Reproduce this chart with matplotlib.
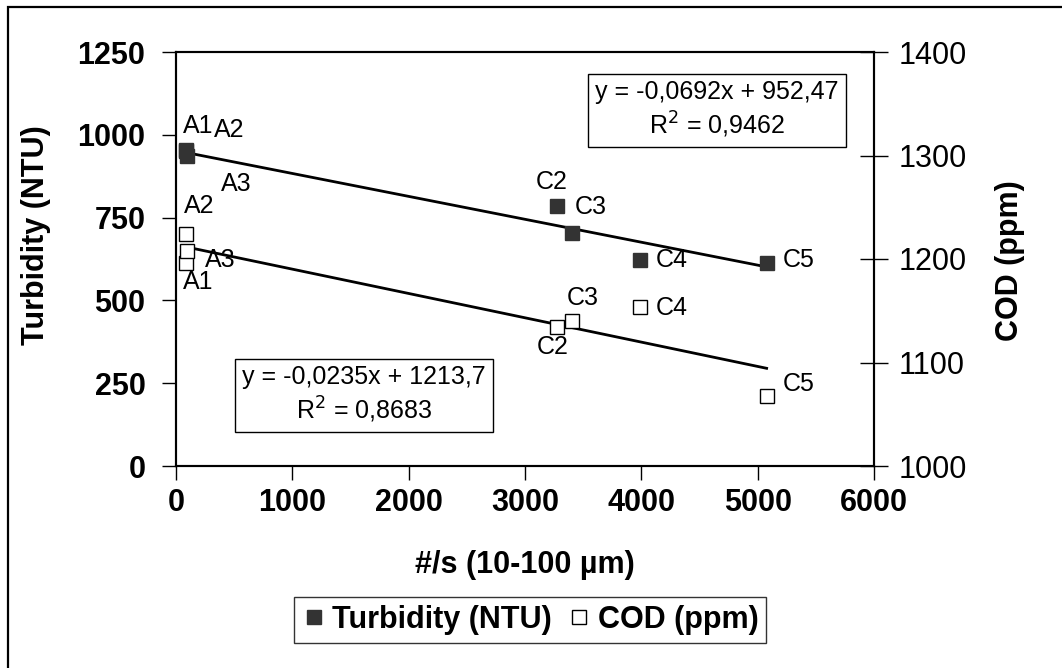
import numpy as np
import matplotlib
matplotlib.use("Agg")
from matplotlib import pyplot as plt
from matplotlib.lines import Line2D
from matplotlib.patches import Rectangle

plt.rcParams['font.family'] = ['Liberation Sans', 'DejaVu Sans']

# particle counts #/s (10-100 um)
turb_x = [85, 90, 95, 3276, 3405, 3990, 5077]
turb_y = [955, 950, 935, 785, 703, 622, 613]
turb_lab = ["A1", "A2", "A3", "C2", "C3", "C4", "C5"]

cod_x = [85, 90, 95, 3276, 3405, 3990, 5077]
cod_y = [1196, 1224, 1208, 1134, 1140, 1154, 1068]
cod_lab = ["A1", "A2", "A3", "C2", "C3", "C4", "C5"]

# trend line coefficients (slope, intercept)
turb_fit = (-0.0692, 952.47)
cod_fit = (-0.0235, 1213.7)
turb_eq = "y = -0,0692x + 952,47\nR$^2$ = 0,9462"
cod_eq = "y = -0,0235x + 1213,7\nR$^2$ = 0,8683"

# label offsets in pixels (left edge of text, relative to point)
turb_off = [(-3, 24), (27, 21), (34, -28), (-21, 24), (3, 26), (16, 0), (16, 3)]
cod_off = [(-3, -19), (-3, 28), (18, -9), (-20, -20), (-5, 23), (16, -1), (16, 12)]

fig = plt.figure(figsize=(10.62, 6.68), dpi=100)
fig.patches.append(Rectangle((8 / 1062, -0.1), 1.2, 1.1 - 7 / 668, transform=fig.transFigure,
                             fill=False, edgecolor='black', linewidth=1.6))
ax = fig.add_axes([176 / 1062, 1 - 466 / 668, 698 / 1062, 414 / 668])
ax2 = ax.twinx()

ax.plot(turb_x, turb_y, 's', color='#333333', markersize=10, zorder=3)
xx = np.array([min(turb_x), max(turb_x)])
ax.plot(xx, turb_fit[0] * xx + turb_fit[1], color='black', lw=2)
for x, y, t, o in zip(turb_x, turb_y, turb_lab, turb_off):
    ax.annotate(t, (x, y), xytext=o, textcoords='offset pixels', fontsize=18,
                ha='left', va='center')

ax2.plot(cod_x, cod_y, 's', markerfacecolor='white', markeredgecolor='black',
         markeredgewidth=1, markersize=10, zorder=3)
xx = np.array([min(cod_x), max(cod_x)])
ax2.plot(xx, cod_fit[0] * xx + cod_fit[1], color='black', lw=2)
for x, y, t, o in zip(cod_x, cod_y, cod_lab, cod_off):
    ax2.annotate(t, (x, y), xytext=o, textcoords='offset pixels', fontsize=18,
                 ha='left', va='center')

ax.set_xlim(0, 6000)
ax.set_ylim(0, 1250)
ax2.set_ylim(1000, 1400)
ax.set_xticks(range(0, 6001, 1000))
ax.set_yticks(range(0, 1251, 250))
ax2.set_yticks(range(1000, 1401, 100))

for s in ax.spines.values():
    s.set_linewidth(1.5)
for s in ax2.spines.values():
    s.set_linewidth(1.5)
ax.tick_params(axis='both', direction='out', length=10, width=1, labelsize=22)
ax.tick_params(axis='y', pad=12)
ax.tick_params(axis='x', pad=6)
ax2.tick_params(axis='y', direction='inout', length=20, width=1, labelsize=22, pad=8)
for lb in ax.get_xticklabels() + ax.get_yticklabels():
    lb.set_fontweight('bold')

fig.text(525 / 1062, 1 - 565 / 668, "#/s (10-100 µm)", fontsize=22, fontweight='bold',
         ha='center', va='center')
fig.text(36 / 1062, 1 - 235 / 668, "Turbidity (NTU)", rotation=90, fontsize=22,
         fontweight='bold', ha='center', va='center')
fig.text(1010 / 1062, 1 - 261 / 668, "COD (ppm)", rotation=90, fontsize=22,
         fontweight='bold', ha='center', va='center')

bb = dict(boxstyle='square,pad=0.3', facecolor='white', edgecolor='black', linewidth=1)
fig.text(717 / 1062, 1 - 110 / 668, turb_eq, fontsize=18, ha='center', va='center',
         multialignment='center', bbox=bb)
fig.text(364 / 1062, 1 - 395 / 668, cod_eq, fontsize=18, ha='center', va='center',
         multialignment='center', bbox=bb)

handles = [Line2D([], [], ls='', marker='s', color='#333333', markersize=10),
           Line2D([], [], ls='', marker='s', markerfacecolor='white',
                  markeredgecolor='black', markersize=10)]
fig.legend(handles, ["Turbidity (NTU)", "COD (ppm)"], loc='center',
           bbox_to_anchor=(530 / 1062, 1 - 620 / 668), ncol=2, frameon=True,
           fancybox=False, edgecolor='black', prop={'size': 22, 'weight': 'bold'},
           handletextpad=0.2, columnspacing=0.5, handlelength=0.8, borderpad=0.25)

fig.savefig("out.png", dpi=100)
